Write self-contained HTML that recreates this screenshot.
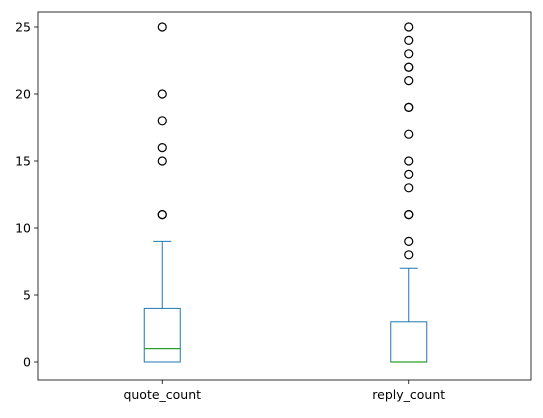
<!DOCTYPE html>
<html><head><meta charset="utf-8"><style>
body{margin:0;background:#fff;width:543px;height:413px;overflow:hidden}
text{font-family:"DejaVu Sans","Liberation Sans",sans-serif;font-size:12.5px;fill:#000}
</style></head><body>
<svg id="chart" width="543" height="413"></svg>
<script>
const categories=["quote_count","reply_count"];
const q1s=[0,0];
const medians=[1,0];
const q3s=[4,3];
const whiskerLows=[0,0];
const whiskerHighs=[9,7];
const outliers=[[11,11,15,16,18,20,25],[8,9,11,11,13,14,15,17,19,19,21,22,22,23,24,25]];
const yTicks=[0,5,10,15,20,25];

const NS="http://www.w3.org/2000/svg";
const svg=document.getElementById('chart');
const L=38,R=531,T=12,B=380;
const y=v=>362-v*13.4;
const x=i=>L+(R-L)*(0.25+0.5*i)+1;
const bw=36;
function el(tag,attrs,parent){const e=document.createElementNS(NS,tag);for(const k in attrs)e.setAttribute(k,attrs[k]);(parent||svg).appendChild(e);return e;}

yTicks.forEach(t=>{
  const g=el('g',{});
  
  
  el('line',{x1:L-4,x2:L,y1:y(t),y2:y(t),stroke:'#000','stroke-width':0.8},g);
  const tx=el('text',{x:L-7,y:y(t)+4.5,'text-anchor':'end'},g);tx.textContent=t;
});
categories.forEach((c,i)=>{
  const g=el('g',{});
  
  
  const cx=x(i),col='#1f77b4';
  el('rect',{x:cx-bw/2,y:y(q3s[i]),width:bw,height:y(q1s[i])-y(q3s[i]),fill:'none',stroke:col,'stroke-width':1},g);
  el('line',{x1:cx,x2:cx,y1:y(q3s[i]),y2:y(whiskerHighs[i]),stroke:col},g);
  el('line',{x1:cx,x2:cx,y1:y(q1s[i]),y2:y(whiskerLows[i]),stroke:col},g);
  el('line',{x1:cx-bw/4,x2:cx+bw/4,y1:y(whiskerHighs[i]),y2:y(whiskerHighs[i]),stroke:col},g);
  el('line',{x1:cx-bw/4,x2:cx+bw/4,y1:y(whiskerLows[i]),y2:y(whiskerLows[i]),stroke:col},g);
  el('line',{x1:cx-bw/2,x2:cx+bw/2,y1:y(medians[i]),y2:y(medians[i]),stroke:'#2ca02c','stroke-width':1.2},g);
  outliers[i].forEach(v=>{
    const c2=el('circle',{cx:cx,cy:y(v),r:4,fill:'none',stroke:'#000','stroke-width':1.2},g);
    
    
  });
  el('line',{x1:cx,x2:cx,y1:B,y2:B+4,stroke:'#000','stroke-width':0.8});
  const tx=el('text',{x:cx,y:B+19,'text-anchor':'middle'});tx.textContent=c;
  
  
});
const fr=el('rect',{x:L,y:T,width:R-L,height:B-T,fill:'none',stroke:'#000','stroke-width':0.8});


</script>
</body></html>
